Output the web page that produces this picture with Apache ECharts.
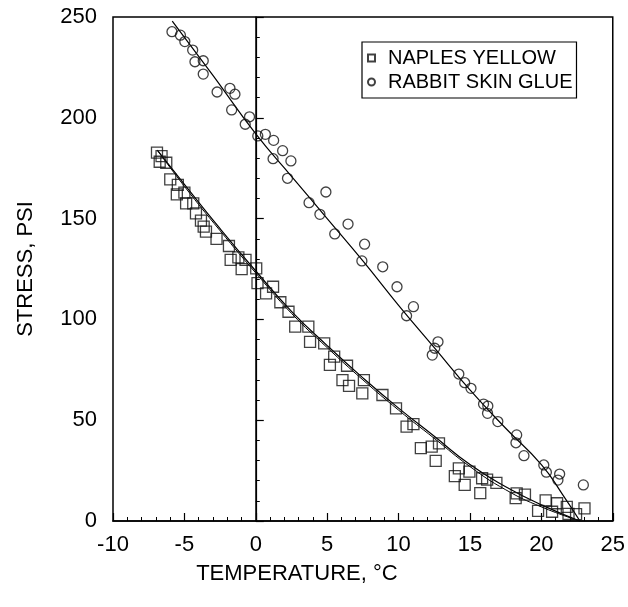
<!DOCTYPE html>
<html>
<head>
<meta charset="utf-8">
<script src="https://cdn.jsdelivr.net/npm/echarts@6/dist/echarts.min.js"></script>
<style>
  html, body { margin: 0; padding: 0; background: #fff; }
  #chart { width: 628px; height: 607px; }
</style>
</head>
<body>
<div id="chart"></div>
<script>
// scatter points
const naplesX = [-6.92, -6.6, -6.73, -6.27, -5.99, -5.46, -5.53, -5.0, -4.88, -4.38, -4.19, -3.84, -3.65, -3.49, -2.75, -1.88, -1.76, -1.22, -0.72, -0.99, 0.03, 0.12, 0.72, 1.21, 1.72, 2.29, 2.76, 3.68, 3.8, 4.79, 5.49, 5.19, 6.39, 6.07, 6.53, 7.57, 7.46, 8.87, 9.82, 10.56, 11.04, 11.56, 12.32, 12.83, 12.6, 14.22, 13.94, 14.96, 14.63, 15.72, 15.85, 16.2, 16.85, 18.27, 18.2, 18.85, 19.77, 20.3, 20.75, 21.1, 21.78, 21.9, 22.43, 23.02];
const naplesY = [182.7, 181, 178.2, 177.7, 169.5, 166.7, 162, 162.9, 157.6, 157.6, 152.6, 149, 146, 143.5, 139.9, 136.4, 129.5, 130.8, 129.5, 124.9, 125.3, 118, 112.9, 116.2, 108.5, 103.8, 96.4, 96.4, 88.9, 88.1, 81.5, 77.4, 77, 69.9, 67, 69.9, 63.3, 62.5, 55.9, 46.8, 48.1, 36.1, 36.9, 38.5, 29.8, 26.1, 22.3, 24.5, 17.9, 13.8, 21.2, 20.5, 18.9, 13.7, 11.3, 13.1, 5, 10.2, 4.6, 8.8, 7, 3.5, 3.4, 6.3];

const glueX = [-5.87, -5.28, -4.97, -4.42, -4.26, -3.68, -3.68, -2.71, -1.81, -1.46, -1.69, -0.44, -0.74, 0.14, 0.67, 1.25, 1.88, 2.46, 1.21, 2.22, 4.91, 3.73, 4.49, 6.46, 5.53, 7.62, 7.43, 8.89, 9.89, 11.04, 10.56, 12.76, 12.53, 12.36, 14.22, 14.63, 15.07, 15.95, 16.25, 16.23, 16.95, 18.27, 18.22, 18.78, 20.17, 20.35, 21.28, 21.16, 22.94];
const glueY = [242.7, 241, 237.8, 233.6, 227.8, 228.3, 221.7, 212.8, 214.6, 211.7, 203.9, 200.5, 196.8, 191, 191.8, 188.8, 183.7, 178.6, 179.7, 170, 163.2, 157.9, 152.1, 147.3, 142.4, 137.3, 129, 126.1, 116.2, 106.3, 101.8, 88.9, 85.7, 82.3, 72.9, 68.6, 65.8, 58, 57, 53.4, 49.3, 42.7, 38.8, 32.4, 27.8, 24.2, 23.3, 20.3, 17.9];

// fitted curves, read at a few temperatures
const naplesFitX = [-6.9, -5, -2.5, 0, 2.5, 5, 7.5, 10, 12.5, 15, 17.5, 20, 22.7];
const naplesFitY = [184, 167, 145, 124, 104, 87, 71, 56, 42, 28, 17, 8, 0];
const naplesFit2Y = [184, 166, 144, 123, 103, 86, 70, 55, 41, 27, 15.5, 7, 0];
const glueFitX = [-5.85, -3, 0, 2.5, 5, 7.5, 10, 12.5, 15, 17.5, 20, 21.5, 22.7];
const glueFitY = [248, 221, 192, 171, 150, 129, 107, 86, 65, 46, 28, 13, 0];

const xTicks = { min: -10, max: 25, interval: 5 };
const yTicks = { min: 0, max: 250, interval: 50 };

const zip = (xs, ys) => xs.map((x, i) => [x, ys[i]]);

const chart = echarts.init(document.getElementById('chart'));
const font = 'Liberation Sans, Arial, Helvetica, sans-serif';

chart.setOption({
  backgroundColor: '#fff',
  animation: false,
  grid: {
    left: 113,
    right: 14,
    top: 17,
    bottom: 86,
    show: true,
    borderColor: '#000',
    borderWidth: 1.5,
  },
  legend: {
    orient: 'vertical',
    left: 362,
    top: 42,
    padding: [6, 4, 6, 5],
    itemGap: 4,
    itemWidth: 7,
    itemHeight: 7,
    borderColor: '#000',
    borderWidth: 1.2,
    backgroundColor: '#fff',
    data: ['NAPLES YELLOW', 'RABBIT SKIN GLUE'],
    textStyle: {
      fontFamily: font,
      fontSize: 20,
      color: '#000',
      padding: [0, 0, 0, 8],
    },
  },
  xAxis: {
    type: 'value',
    min: xTicks.min,
    max: xTicks.max,
    interval: xTicks.interval,
    name: 'TEMPERATURE, °C',
    nameLocation: 'middle',
    nameGap: 42,
    nameTextStyle: {
      fontFamily: font,
      fontSize: 22,
      color: '#000',
      padding: [0, 132, 0, 0],
    },
    axisLine: { lineStyle: { color: '#000', width: 1.5 } },
    axisTick: { inside: true, length: 8, lineStyle: { color: '#000', width: 1.2 } },
    minorTick: { show: true, splitNumber: 5, length: 4, lineStyle: { color: '#000', width: 1 } },
    axisLabel: { fontFamily: font, fontSize: 22, color: '#000', margin: 13 },
    splitLine: { show: false },
  },
  yAxis: {
    type: 'value',
    min: yTicks.min,
    max: yTicks.max,
    interval: yTicks.interval,
    name: 'STRESS, PSI',
    nameLocation: 'middle',
    nameGap: 76,
    nameTextStyle: { fontFamily: font, fontSize: 22, color: '#000' },
    axisLine: { show: true, lineStyle: { color: '#000', width: 1.5 } },
    axisTick: { show: true, inside: true, length: 8, lineStyle: { color: '#000', width: 1.2 } },
    minorTick: { show: true, splitNumber: 5, length: 4, lineStyle: { color: '#000', width: 1 } },
    axisLabel: { fontFamily: font, fontSize: 22, color: '#000', margin: 16 },
    splitLine: { show: false },
  },
  series: [
    {
      name: 'NAPLES YELLOW',
      type: 'scatter',
      symbol: 'rect',
      symbolSize: 11,
      itemStyle: { color: 'rgba(255,255,255,0)', borderColor: '#111', borderWidth: 1.3 },
      data: zip(naplesX, naplesY),
      markLine: {
        silent: true,
        symbol: 'none',
        label: { show: false },
        lineStyle: { color: '#000', width: 1.2, type: 'solid' },
        data: [{ xAxis: 0 }],
      },
      z: 3,
    },
    {
      name: 'RABBIT SKIN GLUE',
      type: 'scatter',
      symbol: 'circle',
      symbolSize: 10,
      itemStyle: { color: 'rgba(255,255,255,0)', borderColor: '#111', borderWidth: 1.3 },
      data: zip(glueX, glueY),
      z: 3,
    },
    {
      name: 'naples fit',
      type: 'line',
      smooth: true,
      showSymbol: false,
      lineStyle: { color: '#000', width: 1.2 },
      data: zip(naplesFitX, naplesFitY),
      z: 2,
    },
    {
      name: 'naples fit 2',
      type: 'line',
      smooth: true,
      showSymbol: false,
      lineStyle: { color: '#000', width: 1 },
      data: zip(naplesFitX, naplesFit2Y),
      z: 2,
    },
    {
      name: 'glue fit',
      type: 'line',
      smooth: true,
      showSymbol: false,
      lineStyle: { color: '#000', width: 1.2 },
      data: zip(glueFitX, glueFitY),
      z: 2,
    },
  ],
});
</script>
</body>
</html>
